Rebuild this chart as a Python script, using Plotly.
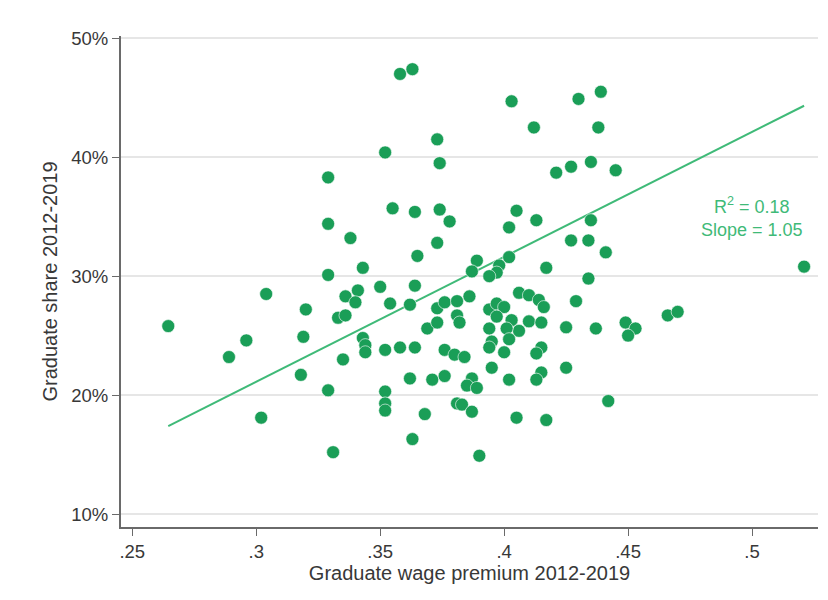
import plotly.graph_objects as go

# Graduate wage premium 2012-2019 (x) and graduate share 2012-2019 in % (y)
wage_premium = [
    0.358, 0.363, 0.373, 0.352, 0.374, 0.329, 0.355, 0.364, 0.374, 0.378,
    0.329, 0.338, 0.373, 0.365, 0.343, 0.329, 0.403, 0.430, 0.439, 0.412,
    0.438, 0.421, 0.427, 0.435, 0.445, 0.405, 0.402, 0.413, 0.435, 0.427,
    0.434, 0.441, 0.402, 0.389, 0.387, 0.398, 0.397, 0.394, 0.417, 0.521,
    0.434, 0.304, 0.320, 0.2645, 0.296, 0.289, 0.319, 0.318, 0.329, 0.302,
    0.331, 0.335, 0.350, 0.364, 0.336, 0.341, 0.340, 0.333, 0.336, 0.354,
    0.362, 0.343, 0.344, 0.344, 0.352, 0.358, 0.364, 0.373, 0.376, 0.381,
    0.386, 0.381, 0.382, 0.369, 0.373, 0.376, 0.380, 0.384, 0.362, 0.371,
    0.376, 0.352, 0.352, 0.352, 0.368, 0.363, 0.381, 0.383, 0.387, 0.387,
    0.385, 0.389, 0.390, 0.394, 0.397, 0.400, 0.397, 0.406, 0.410, 0.414,
    0.416, 0.429, 0.403, 0.406, 0.401, 0.402, 0.394, 0.410, 0.415, 0.425,
    0.437, 0.449, 0.453, 0.450, 0.466, 0.470, 0.395, 0.394, 0.400, 0.415,
    0.413, 0.395, 0.402, 0.415, 0.413, 0.425, 0.442, 0.405, 0.417,
]
graduate_share = [
    47.0, 47.4, 41.5, 40.4, 39.5, 38.3, 35.7, 35.4, 35.6, 34.6,
    34.4, 33.2, 32.8, 31.7, 30.7, 30.1, 44.7, 44.9, 45.5, 42.5,
    42.5, 38.7, 39.2, 39.6, 38.9, 35.5, 34.1, 34.7, 34.7, 33.0,
    33.0, 32.0, 31.6, 31.3, 30.4, 30.9, 30.3, 30.0, 30.7, 30.8,
    29.8, 28.5, 27.2, 25.8, 24.6, 23.2, 24.9, 21.7, 20.4, 18.1,
    15.2, 23.0, 29.1, 29.2, 28.3, 28.8, 27.8, 26.5, 26.7, 27.7,
    27.6, 24.8, 24.2, 23.6, 23.8, 24.0, 24.0, 27.3, 27.8, 27.9,
    28.3, 26.7, 26.1, 25.6, 26.1, 23.8, 23.4, 23.2, 21.4, 21.3,
    21.6, 20.3, 19.3, 18.7, 18.4, 16.3, 19.3, 19.2, 18.6, 21.4,
    20.8, 20.6, 14.9, 27.2, 27.7, 27.4, 26.6, 28.6, 28.4, 28.0,
    27.4, 27.9, 26.3, 25.4, 25.6, 24.7, 25.6, 26.2, 26.1, 25.7,
    25.6, 26.1, 25.6, 25.0, 26.7, 27.0, 24.5, 24.0, 23.6, 24.0,
    23.5, 22.3, 21.3, 21.9, 21.3, 22.3, 19.5, 18.1, 17.9,
]

# Fitted line (share in fraction units): share = intercept + slope * premium
fit_slope = 1.05
fit_intercept = -0.1038
fit_r2 = 0.18

x_tick_vals = [0.25, 0.30, 0.35, 0.40, 0.45, 0.50]
x_tick_text = [".25", ".3", ".35", ".4", ".45", ".5"]
y_tick_vals = [10, 20, 30, 40, 50]
y_tick_text = ["10%", "20%", "30%", "40%", "50%"]

DOT = "#1a9e57"
LINE = "#3fba78"
AXIS = "#6a6a6a"
TEXT = "#383838"
FONT = "Arial, Liberation Sans, sans-serif"

x_lo, x_hi = min(wage_premium), max(wage_premium)
fit_x = [x_lo, x_hi]
fit_y = [100 * (fit_intercept + fit_slope * v) for v in fit_x]

fig = go.Figure()
fig.add_trace(go.Scatter(
    x=fit_x, y=fit_y, mode="lines",
    line=dict(color=LINE, width=2), hoverinfo="skip", showlegend=False,
))
fig.add_trace(go.Scatter(
    x=wage_premium, y=graduate_share, mode="markers",
    marker=dict(color=DOT, size=13, line=dict(color="white", width=0.6)),
    showlegend=False,
))

fig.add_annotation(
    x=0.50, y=35.0, xref="x", yref="y",
    text=f"R<sup>2</sup> = {fit_r2:.2f}<br>Slope = {fit_slope:.2f}",
    showarrow=False, align="center",
    font=dict(family=FONT, size=18, color=LINE),
)

fig.update_layout(
    width=820, height=592,
    margin=dict(l=113, r=10, t=28, b=73),
    paper_bgcolor="white", plot_bgcolor="white",
    font=dict(family=FONT, size=18, color=TEXT),
    xaxis=dict(
        range=[0.24544, 0.52661],
        tickvals=x_tick_vals, ticktext=x_tick_text,
        ticks="outside", ticklen=7, tickwidth=1.3, tickcolor=AXIS,
        showline=True, linecolor=AXIS, linewidth=2,
        showgrid=False, zeroline=False,
        tickfont=dict(size=18.5, color=TEXT),
        title=dict(text="Graduate wage premium 2012-2019",
                   font=dict(size=20, color=TEXT), standoff=3),
    ),
    yaxis=dict(
        range=[8.91, 50.19],
        tickvals=y_tick_vals, ticktext=y_tick_text,
        ticks="outside", ticklen=7, tickwidth=1.3, tickcolor=AXIS,
        showline=True, linecolor=AXIS, linewidth=2,
        showgrid=True, gridcolor="#e6e6e6", gridwidth=2,
        zeroline=False,
        tickfont=dict(size=18.5, color=TEXT),
        title=dict(text="Graduate share 2012-2019",
                   font=dict(size=20, color=TEXT), standoff=8),
    ),
)

fig.write_html("out.html")
